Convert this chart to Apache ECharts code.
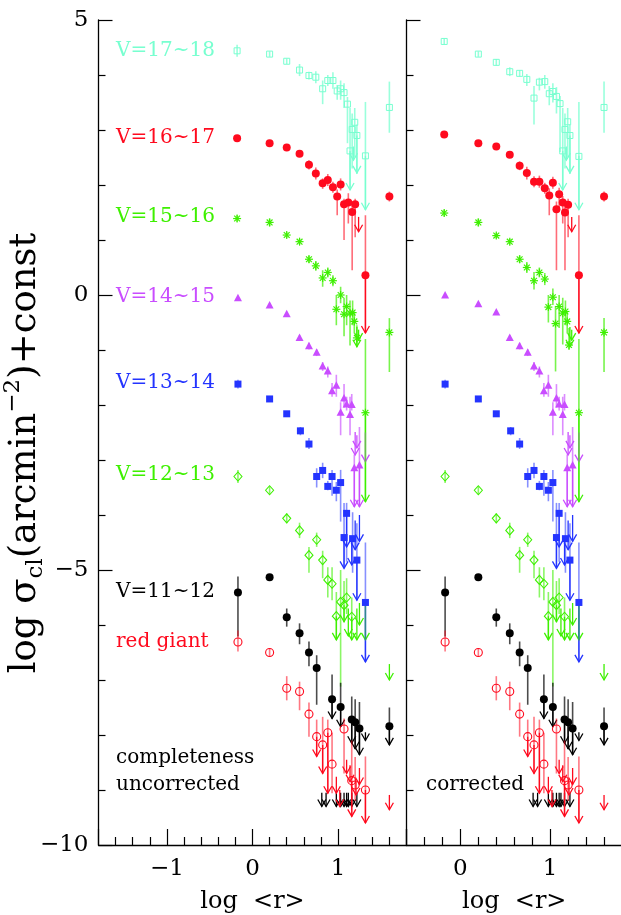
<!DOCTYPE html>
<html><head><meta charset="utf-8">
<script src="https://cdn.jsdelivr.net/npm/echarts@6/dist/echarts.min.js"></script>
<style>html,body{margin:0;padding:0;background:#fff}#c{width:621px;height:915px}</style>
</head><body><div id="c"></div><script>
// ---- data: points [x, y, errLow, errHigh]; arrows (upper limits) [x, top, bottom]
const V1718_L = [[-0.18,4.44,4.33,4.55],[0.20,4.38,4.33,4.43],[0.40,4.25,4.20,4.30],[0.55,4.09,3.98,4.20],[0.66,3.99,3.92,4.06],[0.74,3.96,3.85,4.07],[0.82,3.75,3.47,3.90],[0.88,3.90,3.80,4.00],[0.94,3.90,3.75,4.05],[0.99,3.71,3.55,3.82],[1.03,3.75,3.55,3.90],[1.07,3.68,3.40,3.85],[1.11,3.47,2.76,3.60],[1.14,2.62,1.91,3.40],[1.165,3.01,2.30,3.30],[1.195,3.14,2.50,3.40],[1.22,2.90,2.20,3.10],[1.32,2.53,1.55,3.51],[1.60,3.41,2.95,3.88]];
const V1718_R = [[-0.18,4.61,4.55,4.67],[0.20,4.38,4.33,4.43],[0.40,4.23,4.17,4.29],[0.55,4.06,3.98,4.14],[0.66,4.03,3.97,4.09],[0.74,3.92,3.80,4.02],[0.82,3.58,3.10,3.80],[0.88,3.87,3.72,3.95],[0.94,3.88,3.75,4.00],[0.99,3.66,3.45,3.80],[1.03,3.70,3.50,3.85],[1.07,3.61,3.30,3.78],[1.11,3.48,2.60,3.62],[1.14,2.62,1.91,3.40],[1.165,3.01,2.30,3.30],[1.195,3.15,2.50,3.40],[1.22,2.90,2.20,3.10],[1.32,2.52,1.55,3.51],[1.60,3.41,2.95,3.88]];
const V1718_ARR = [[1.14,2.62,1.91],[1.18,2.70,2.45],[1.22,2.90,2.22],[1.32,2.53,1.55]];

const V1617_L = [[-0.18,2.85,2.80,2.90],[0.20,2.76,2.72,2.80],[0.40,2.68,2.64,2.72],[0.55,2.57,2.52,2.62],[0.66,2.37,2.28,2.45],[0.74,2.21,2.10,2.32],[0.82,2.03,1.93,2.12],[0.88,2.09,1.98,2.20],[0.94,1.96,1.86,2.06],[0.99,1.79,1.45,1.92],[1.03,2.01,1.90,2.12],[1.07,1.65,1.00,1.75],[1.12,1.68,1.30,1.85],[1.165,1.51,0.45,1.65],[1.20,1.65,1.05,1.75],[1.32,0.36,-0.69,1.45],[1.60,1.79,1.70,1.88]];
const V1617_R = [[-0.18,2.92,2.87,2.97],[0.20,2.76,2.72,2.80],[0.40,2.70,2.66,2.74],[0.55,2.55,2.50,2.60],[0.66,2.35,2.27,2.43],[0.74,2.22,2.10,2.33],[0.82,2.06,1.96,2.16],[0.88,2.06,1.95,2.17],[0.94,1.94,1.84,2.04],[0.99,1.81,1.45,1.94],[1.03,2.04,1.93,2.15],[1.07,1.56,0.45,1.70],[1.10,1.83,1.60,1.95],[1.14,1.68,1.30,1.80],[1.165,1.50,0.45,1.62],[1.20,1.64,1.05,1.75],[1.32,0.36,-0.70,1.45],[1.60,1.79,1.70,1.88]];
const V1617_ARR = [[1.24,1.42,1.15],[1.32,0.36,-0.69]];

const V1516_L = [[-0.18,1.39,1.33,1.45],[0.20,1.32,1.25,1.39],[0.40,1.09,1.04,1.14],[0.55,0.97,0.92,1.02],[0.66,0.65,0.58,0.72],[0.74,0.53,0.44,0.62],[0.82,0.31,0.15,0.45],[0.88,0.41,0.32,0.50],[0.94,0.26,0.16,0.36],[0.98,-0.26,-0.55,0.00],[1.03,0.00,-0.15,0.15],[1.07,-0.35,-0.75,-0.05],[1.10,-0.21,-0.55,0.00],[1.14,-0.33,-0.92,-0.10],[1.17,-0.32,-0.55,-0.10],[1.19,-0.48,-0.70,-0.30],[1.22,-0.78,-0.95,-0.55],[1.32,-2.14,-3.76,-0.80],[1.60,-0.68,-1.40,-0.42]];
const V1516_R = [[-0.18,1.49,1.43,1.55],[0.20,1.32,1.25,1.39],[0.40,1.08,1.03,1.13],[0.55,0.97,0.92,1.02],[0.66,0.65,0.58,0.72],[0.74,0.50,0.40,0.60],[0.82,0.26,0.10,0.42],[0.88,0.41,0.32,0.50],[0.94,0.29,0.18,0.40],[0.98,-0.22,-0.50,0.00],[1.03,-0.04,-0.18,0.12],[1.06,-0.52,-1.39,-0.20],[1.10,-0.21,-0.60,0.00],[1.14,-0.33,-0.90,-0.05],[1.17,-0.30,-0.55,-0.10],[1.19,-0.48,-0.70,-0.30],[1.21,-0.91,-1.00,-0.60],[1.32,-2.14,-3.76,-0.80],[1.60,-0.68,-1.40,-0.42]];
const V1516_ARR = [[1.22,-0.58,-0.94],[1.24,-0.63,-0.82],[1.32,-2.14,-3.76]];

const V1415_L = [[-0.17,-0.06,-0.10,-0.02],[0.20,-0.19,-0.23,-0.15],[0.40,-0.35,-0.39,-0.31],[0.55,-0.78,-0.83,-0.73],[0.66,-0.93,-0.99,-0.87],[0.75,-1.05,-1.11,-0.99],[0.82,-1.30,-1.38,-1.22],[0.88,-1.39,-1.50,-1.30],[0.93,-1.75,-1.85,-1.60],[0.98,-1.65,-1.85,-1.45],[1.03,-2.14,-2.55,-1.95],[1.07,-1.88,-2.05,-1.62],[1.10,-1.99,-2.10,-1.85],[1.14,-2.18,-2.55,-1.85],[1.16,-2.00,-2.10,-1.80],[1.19,-3.15,-3.85,-2.90],[1.25,-3.10,-3.85,-2.40]];
const V1415_R = [[-0.17,-0.01,-0.05,0.03],[0.20,-0.17,-0.21,-0.13],[0.40,-0.32,-0.36,-0.28],[0.55,-0.78,-0.83,-0.73],[0.66,-0.93,-0.99,-0.87],[0.75,-1.05,-1.11,-0.99],[0.82,-1.30,-1.38,-1.22],[0.88,-1.39,-1.50,-1.30],[0.93,-1.75,-1.85,-1.60],[0.98,-1.65,-1.85,-1.45],[1.03,-2.14,-2.55,-1.95],[1.07,-1.88,-2.05,-1.62],[1.10,-1.99,-2.10,-1.85],[1.14,-2.18,-2.55,-1.85],[1.16,-2.00,-2.10,-1.80],[1.19,-3.15,-3.85,-2.90],[1.25,-3.10,-3.85,-2.40]];
const V1415_ARR = [[1.20,-2.49,-2.91],[1.22,-2.55,-2.78],[1.32,-2.50,-3.03],[1.19,-3.15,-3.85],[1.25,-3.10,-3.85]];

const V1314 = [[-0.17,-1.62,-1.70,-1.54],[0.20,-1.89,-1.93,-1.85],[0.40,-2.16,-2.20,-2.12],[0.56,-2.47,-2.55,-2.40],[0.66,-2.71,-2.80,-2.60],[0.75,-3.30,-3.50,-3.15],[0.82,-3.19,-3.33,-3.05],[0.88,-3.48,-3.55,-3.38],[0.93,-3.30,-3.65,-3.18],[0.98,-3.55,-3.75,-3.40],[1.03,-3.41,-4.12,-3.18],[1.10,-3.97,-4.85,-3.78],[1.07,-4.41,-4.95,-3.78],[1.17,-4.43,-5.05,-3.95],[1.22,-4.82,-5.55,-4.15],[1.32,-5.59,-6.67,-4.50]];
const V1314_ARR = [[1.10,-4.00,-4.58],[1.20,-4.10,-4.63],[1.25,-4.00,-4.48],[1.16,-4.43,-4.91],[1.07,-4.41,-4.97],[1.22,-4.82,-5.55],[1.32,-5.59,-6.67]];

const V1213 = [[-0.17,-3.30,-3.42,-3.18],[0.20,-3.55,-3.62,-3.48],[0.40,-4.06,-4.15,-3.97],[0.55,-4.28,-4.42,-4.14],[0.75,-4.45,-4.58,-4.32],[0.66,-4.73,-5.05,-4.58],[0.82,-4.82,-5.15,-4.65],[0.88,-5.18,-5.50,-4.95],[0.93,-5.25,-5.55,-4.95],[1.03,-5.58,-7.12,-5.00],[1.07,-5.64,-5.95,-5.20],[1.10,-5.50,-5.80,-5.15],[0.98,-5.84,-6.27,-5.40],[1.16,-5.85,-6.10,-5.50]];
const V1213_ARR = [[0.98,-5.84,-6.27],[1.07,-5.64,-5.94],[1.12,-5.70,-6.20],[1.16,-5.85,-6.27],[1.22,-5.70,-6.27],[1.25,-5.60,-6.00],[1.32,-5.60,-6.27],[1.60,-6.71,-7.00]];

const V1112 = [[-0.17,-5.41,-6.21,-5.12],[0.20,-5.13,-5.16,-5.10],[0.40,-5.86,-6.03,-5.70],[0.55,-6.15,-6.35,-5.97],[0.66,-6.50,-6.75,-6.30],[0.75,-6.78,-7.45,-6.55],[0.93,-7.35,-7.70,-6.90],[1.03,-7.49,-7.85,-7.05],[1.16,-7.72,-8.15,-7.30],[1.20,-7.77,-8.25,-7.35],[1.25,-7.88,-8.36,-7.40],[1.60,-7.84,-8.18,-7.50]];
const V1112_ARR = [[0.93,-7.35,-7.70],[1.03,-7.49,-7.85],[1.16,-7.72,-8.15],[1.20,-7.77,-8.25],[1.25,-7.88,-8.36],[1.32,-7.95,-8.10],[1.60,-7.84,-8.18],[0.81,-9.05,-9.30],[0.86,-9.05,-9.30],[0.98,-9.05,-9.30],[1.03,-9.05,-9.30],[1.07,-9.05,-9.30],[1.10,-9.05,-9.30],[1.12,-9.05,-9.30],[1.16,-9.05,-9.30],[1.22,-9.05,-9.30]];

const RG = [[-0.17,-6.31,-6.48,-6.10],[0.20,-6.50,-6.58,-6.42],[0.40,-7.15,-7.37,-6.93],[0.55,-7.21,-7.55,-7.03],[0.66,-7.62,-8.03,-7.41],[0.75,-8.03,-8.39,-7.72],[0.82,-8.18,-8.70,-7.67],[0.88,-7.96,-9.06,-7.72],[0.93,-8.53,-9.06,-7.96],[1.07,-7.89,-8.70,-7.70],[1.16,-8.83,-9.48,-8.10],[1.20,-8.91,-9.20,-8.40],[1.32,-9.00,-9.60,-8.39]];
const RG_ARR = [[0.75,-8.03,-8.39],[0.82,-8.18,-8.70],[0.88,-7.96,-9.06],[0.98,-8.76,-9.06],[1.02,-9.00,-9.30],[1.10,-8.45,-8.70],[1.14,-8.55,-8.85],[1.16,-8.83,-9.48],[1.21,-8.85,-9.09],[1.25,-8.60,-8.90],[1.32,-9.00,-9.60],[1.60,-9.09,-9.36]];

const Y_TICK_LABELS = ['−10','−5','0','5'];
const X_LABEL = 'log  <r>';
const Y_LABEL = '{a|log σ}{s|cl}{a|(arcmin}{p|−2}{a|)+const}';
const GROUP_LABELS = ['V=17~18','V=16~17','V=15~16','V=14~15','V=13~14','V=12~13','V=11~12','red giant'];

// ---- styles
const C = {cyan:'#78ffd0', red:'#ff0a1e', green:'#3ef000', mag:'#c94dff', blue:'#2434ff', black:'#000000'};
const GROUPS = [
  {L:V1718_L, R:V1718_R, A:V1718_ARR, AR:V1718_ARR, color:C.cyan, bar:'rgba(120,255,208,0.75)', m:'sqo'},
  {L:V1617_L, R:V1617_R, A:V1617_ARR, AR:V1617_ARR, color:C.red, bar:'rgba(255,10,30,0.6)', m:'cir'},
  {L:V1516_L, R:V1516_R, A:V1516_ARR, AR:V1516_ARR, color:C.green, bar:'rgba(62,240,0,0.7)', m:'ast'},
  {L:V1415_L, R:V1415_R, A:V1415_ARR, AR:V1415_ARR, color:C.mag, bar:'rgba(201,77,255,0.65)', m:'tri'},
  {L:V1314, R:V1314, A:V1314_ARR, AR:V1314_ARR, color:C.blue, bar:'rgba(36,52,255,0.55)', m:'sqf'},
  {L:V1213, R:V1213, A:V1213_ARR, AR:V1213_ARR, color:C.green, bar:'rgba(62,240,0,0.6)', m:'dia'},
  {L:V1112, R:V1112, A:V1112_ARR, AR:V1112_ARR, color:C.black, bar:'rgba(0,0,0,0.7)', m:'cir'},
  {L:RG, R:RG, A:RG_ARR, AR:RG_ARR, color:C.red, bar:'rgba(255,10,30,0.55)', m:'ciro'}
];

function marker(kind, c, color) {
  const x = c[0], y = c[1];
  switch (kind) {
    case 'sqo': return {type:'rect', shape:{x:x-3, y:y-3, width:6, height:6}, style:{fill:'none', stroke:color, lineWidth:1}};
    case 'cir': return {type:'circle', shape:{cx:x, cy:y, r:4}, style:{fill:color}};
    case 'ciro': return {type:'circle', shape:{cx:x, cy:y, r:4}, style:{fill:'none', stroke:color, lineWidth:1.1}};
    case 'sqf': return {type:'rect', shape:{x:x-3.5, y:y-3.5, width:7, height:7}, style:{fill:color}};
    case 'tri': return {type:'polygon', shape:{points:[[x,y-4.5],[x-4,y+3],[x+4,y+3]]}, style:{fill:color}};
    case 'dia': return {type:'polygon', shape:{points:[[x,y-4.5],[x+4,y],[x,y+4.5],[x-4,y]]}, style:{fill:'none', stroke:color, lineWidth:1.1}};
    case 'ast': {
      const r = 4, d = 2.9;
      return {type:'group', children:[
        {type:'line', shape:{x1:x-r,y1:y,x2:x+r,y2:y}, style:{stroke:color, lineWidth:1.2}},
        {type:'line', shape:{x1:x,y1:y-r,x2:x,y2:y+r}, style:{stroke:color, lineWidth:1.2}},
        {type:'line', shape:{x1:x-d,y1:y-d,x2:x+d,y2:y+d}, style:{stroke:color, lineWidth:1.2}},
        {type:'line', shape:{x1:x-d,y1:y+d,x2:x+d,y2:y-d}, style:{stroke:color, lineWidth:1.2}}
      ]};
    }
  }
}

function pointSeries(data, g, gi) {
  return {
    type:'custom', xAxisIndex:gi, yAxisIndex:gi, data:data, z:3, silent:true, clip:false,
    encode:{x:0, y:1},
    renderItem:function(params, api){
      const x = api.value(0);
      const c = api.coord([x, api.value(1)]);
      const a = api.coord([x, api.value(2)]);
      const b = api.coord([x, api.value(3)]);
      return {type:'group', children:[
        {type:'line', shape:{x1:c[0], y1:a[1], x2:c[0], y2:b[1]}, style:{stroke:g.bar, lineWidth:1.6}},
        marker(g.m, c, g.color)
      ]};
    }
  };
}
function arrowSeries(data, g, gi) {
  return {
    type:'custom', xAxisIndex:gi, yAxisIndex:gi, data:data, z:2, silent:true, clip:false,
    encode:{x:0, y:1},
    renderItem:function(params, api){
      const x = api.value(0);
      const t = api.coord([x, api.value(1)]);
      const b = api.coord([x, api.value(2)]);
      return {type:'group', children:[
        {type:'line', shape:{x1:t[0], y1:t[1], x2:b[0], y2:b[1]}, style:{stroke:g.color, lineWidth:1.3}},
        {type:'polyline', shape:{points:[[b[0]-4,b[1]-7],[b[0],b[1]],[b[0]+4,b[1]-7]]}, style:{stroke:g.color, lineWidth:1.3, fill:'none'}}
      ]};
    }
  };
}

const series = [];
GROUPS.forEach(g => {
  series.push(arrowSeries(g.A, g, 0));
  series.push(arrowSeries(g.AR, g, 1));
});
GROUPS.forEach(g => {
  series.push(pointSeries(g.L, g, 0));
  series.push(pointSeries(g.R, g, 1));
});

const fmtNum = v => {
  const r = Math.round(v * 1000) / 1000;
  if (Math.abs(r - Math.round(r)) > 1e-6) return '';
  const n = Math.round(r);
  return n < 0 ? '−' + Math.abs(n) : String(n);
};

const axisLine = {show:true, onZero:false, lineStyle:{color:'#000', width:1.3}};
const tickStyle = {color:'#000', width:1.2};
const tickFont = {fontFamily:'DejaVu Serif', fontSize:23, color:'#000'};

function xAx(gi, min, max, split) {
  return {
    gridIndex:gi, type:'value', min:min, max:max, splitNumber:split,
    axisLine:axisLine,
    axisTick:{show:true, inside:true, length:16, lineStyle:tickStyle},
    minorTick:{show:true, splitNumber:5, length:8, lineStyle:tickStyle},
    splitLine:{show:false}, minorSplitLine:{show:false},
    axisLabel:Object.assign({show:true, margin:13, showMinLabel:false, showMaxLabel:false, formatter:fmtNum, hideOverlap:false}, tickFont),
    name:X_LABEL, nameLocation:'middle', nameGap:45,
    nameTextStyle:{fontFamily:'DejaVu Serif', fontSize:24, color:'#000'}
  };
}
function yAx(gi, labels) {
  return {
    gridIndex:gi, type:'value', min:-10, max:5, interval:5, position:'left',
    axisLine:axisLine,
    axisTick:{show:true, inside:true, length:14, lineStyle:tickStyle},
    minorTick:{show:true, splitNumber:5, length:7, lineStyle:tickStyle},
    splitLine:{show:false}, minorSplitLine:{show:false},
    axisLabel:Object.assign({show:labels, margin:10, formatter:v => Y_TICK_LABELS[Math.round((v + 10) / 5)]}, tickFont)
  };
}

const txt = (text, x, y, color) => ({type:'text', x:x, y:y, silent:true,
  style:{text:text, fill:color, font:'20px "DejaVu Serif"', textAlign:'left', textVerticalAlign:'middle'}});
const labelColors = [C.cyan, C.red, C.green, C.mag, C.blue, C.green, C.black, C.red];
const labelY = [50.7, 138, 217, 297, 383, 475, 592, 642];

const graphics = GROUP_LABELS.map((t, i) => txt(t, 116, labelY[i], labelColors[i]));
graphics.push(txt('completeness', 116, 758, '#000'));
graphics.push(txt('uncorrected', 116, 785, '#000'));
graphics.push(txt('corrected', 426, 785, '#000'));
graphics.push({type:'text', x:25, y:453, rotation:Math.PI/2, silent:true,
  style:{text:Y_LABEL, fill:'#000', textAlign:'center', textVerticalAlign:'middle',
    rich:{
      a:{fontFamily:'DejaVu Serif', fontSize:37, lineHeight:46, fill:'#000'},
      s:{fontFamily:'DejaVu Serif', fontSize:23, lineHeight:23, verticalAlign:'bottom', fill:'#000'},
      p:{fontFamily:'DejaVu Serif', fontSize:23, lineHeight:23, verticalAlign:'top', fill:'#000'}
    }}});

const chart = echarts.init(document.getElementById('c'), null, {renderer:'canvas'});
chart.setOption({
  animation:false,
  backgroundColor:'#fff',
  grid:[
    {left:98.5, top:20, width:308, height:825, containLabel:false, outerBoundsMode:'none'},
    {left:406.5, top:20, width:215.5, height:825, containLabel:false, outerBoundsMode:'none'}
  ],
  xAxis:[xAx(0, -1.8, 1.8, 4), xAx(1, -0.6, 1.8, 2)],
  yAxis:[yAx(0, true), yAx(1, false)],
  series:series,
  graphic:graphics
});
</script></body></html>
